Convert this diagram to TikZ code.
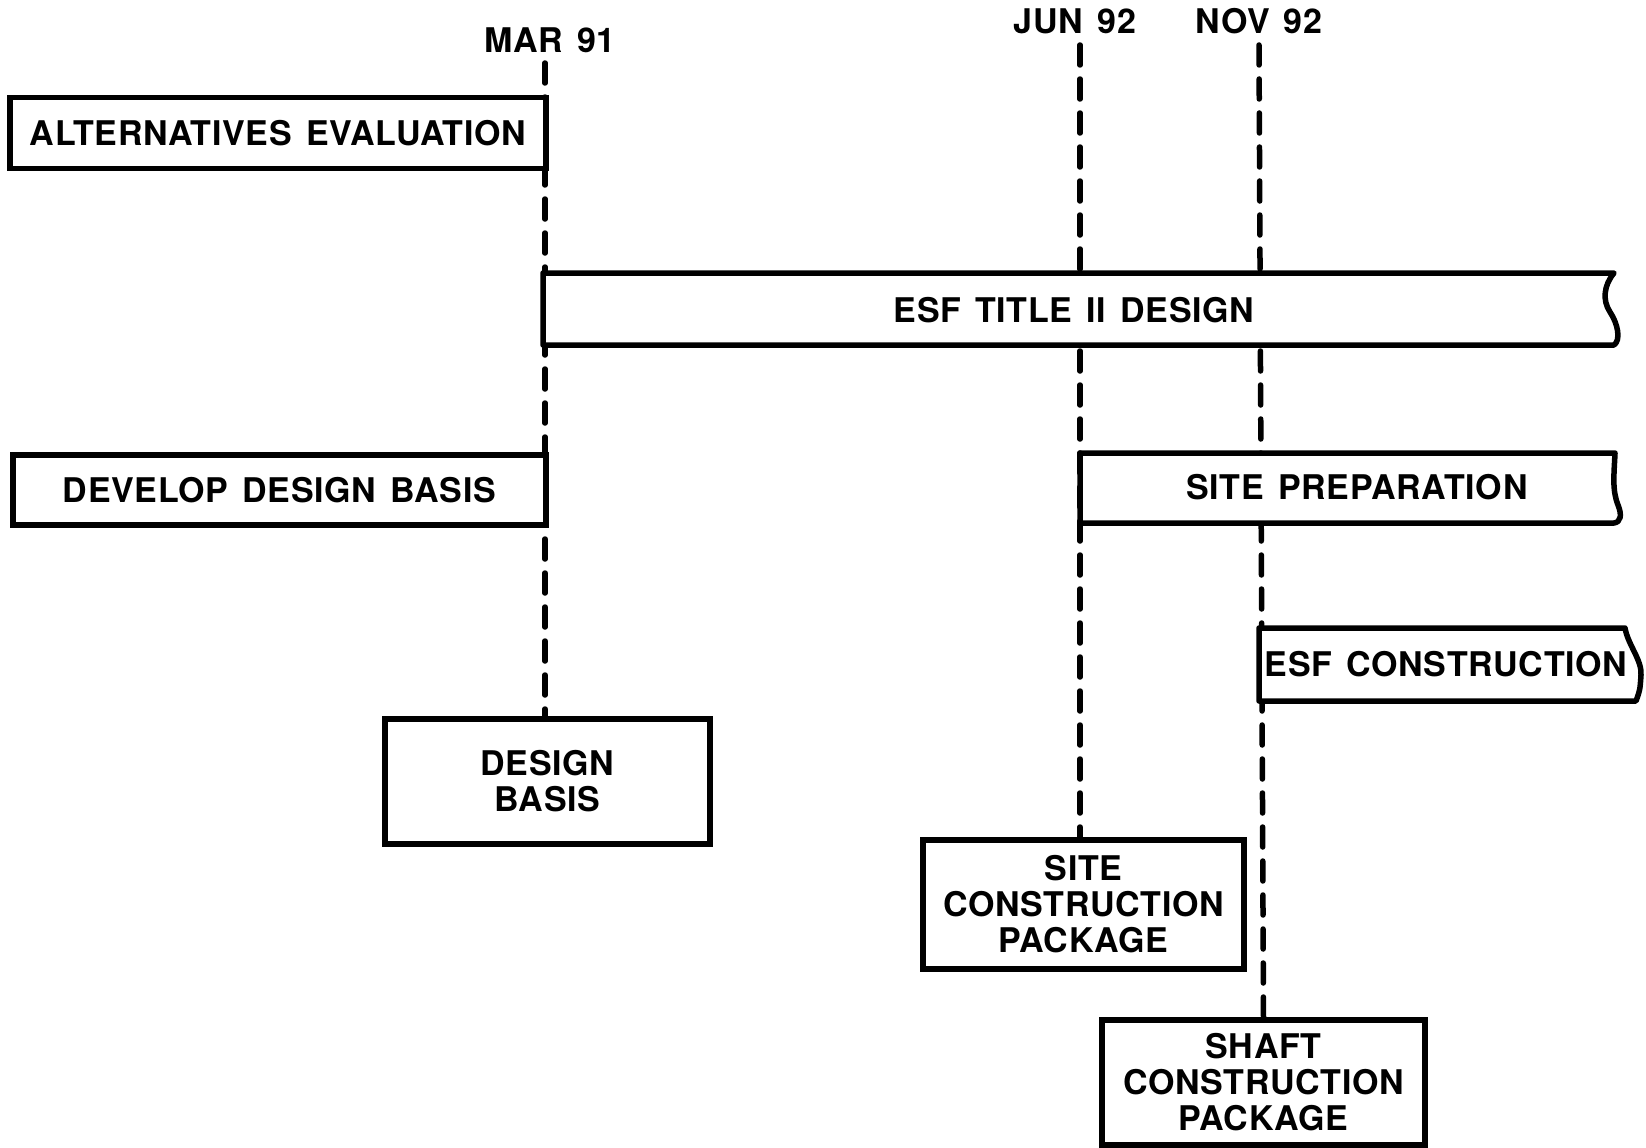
\documentclass[tikz,border=0pt]{standalone}
\usepackage{fontspec}
\setmainfont[LetterSpace=2,WordSpace=1.4]{TeX Gyre Heros}
\begin{document}
\begin{tikzpicture}[x=1pt,y=-1pt,
  every node/.style={font=\fontsize{34}{36}\selectfont\bfseries, inner sep=0pt},
  box/.style={draw, line width=5.5pt, fill=white, align=center},
  bar/.style={draw, line width=5.5pt, fill=white, line join=round},
  dashline/.style={line width=5.5pt, line cap=round, dash pattern=on 20pt off 14pt}]
\useasboundingbox (0,0) rectangle (1646,1148);

% milestone labels
\node (mar) at (550,40) {MAR 91};
\node (jun) at (1075,21) {JUN 92};
\node (nov) at (1259,21) {NOV 92};

% line start points
\coordinate (m0) at (545,63);
\coordinate (j0) at (1080,45);
\coordinate (n0) at (1259,45);

% placeholders of the end boxes (for line ends)
\path (547.5,781.5) node[minimum width=325pt, minimum height=125pt] (dbph) {};
\path (1083.5,904.5) node[minimum width=321pt, minimum height=129pt] (scpph) {};
\path (1263.5,1083) node[minimum width=323pt, minimum height=126pt] (shph) {};

% dashed milestone lines
\draw[dashline] (m0) -- (m0 |- dbph.north);
\draw[dashline] (j0) -- (j0 |- scpph.north);
\draw[dashline] (n0) -- (shph.north);

% plain boxes
\node[box, minimum width=536pt, minimum height=71pt] (alt) at (278,133) {ALTERNATIVES EVALUATION};
\node[box, minimum width=533pt, minimum height=70pt] (ddb) at (279.5,490) {DEVELOP DESIGN BASIS};
\node[box, minimum width=325pt, minimum height=125pt] (db) at (547.5,781.5) {DESIGN\\BASIS};
\node[box, minimum width=321pt, minimum height=129pt] (scp) at (1083.5,904.5) {SITE\\CONSTRUCTION\\PACKAGE};
\node[box, minimum width=323pt, minimum height=125pt] (shaft) at (1263.5,1082.5) {SHAFT\\CONSTRUCTION\\PACKAGE};

% open-ended bars
\draw[bar] (543,273) -- (1614,273)
  .. controls (1604,285) and (1602,300) .. (1610,312)
  .. controls (1618,324) and (1621,340) .. (1614,345)
  -- (543,345) -- cycle;
\node (esfd) at (1074,310) {ESF TITLE II DESIGN};

\draw[bar] (1080,453) -- (1615,453)
  .. controls (1614,475) and (1612,490) .. (1618,505)
  .. controls (1622,515) and (1621,522) .. (1614,523)
  -- (1080,523) -- cycle;
\node (sprep) at (1357,487) {SITE PREPARATION};

\draw[bar] (1259,628) -- (1625,628)
  .. controls (1628,645) and (1642,660) .. (1641,675)
  .. controls (1640,690) .. (1636,701)
  -- (1259,701) -- cycle;
\node (esfc) at (1446,664) {ESF CONSTRUCTION};
\end{tikzpicture}
\end{document}
